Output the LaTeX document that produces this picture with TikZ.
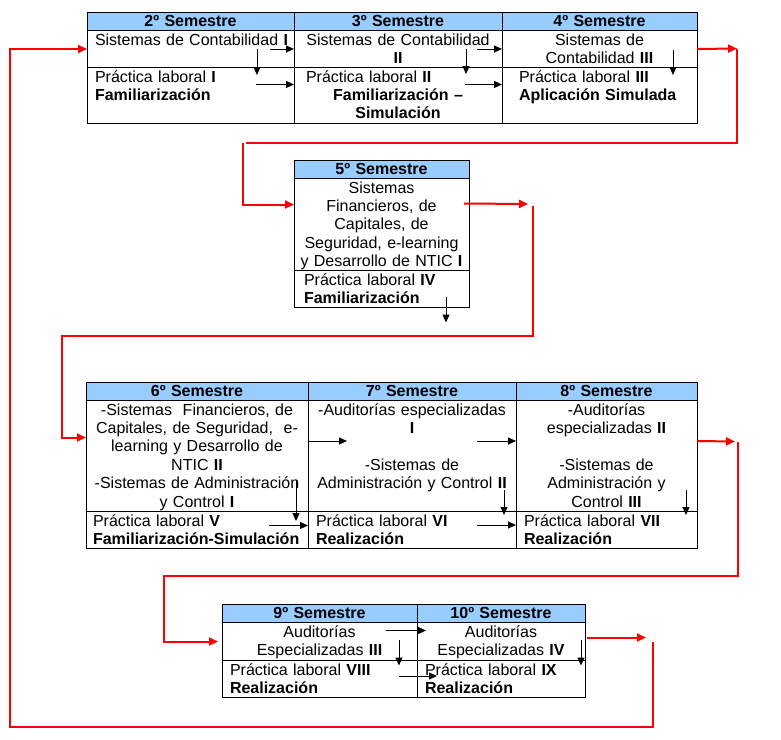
\documentclass[tikz,border=0pt]{standalone}
\usepackage{fontspec}
\setmainfont{Liberation Sans}
\usetikzlibrary{positioning, arrows.meta}
\definecolor{headblue}{RGB}{153,204,255}
\definecolor{linkred}{RGB}{255,0,0}
\tikzset{
  cell/.style={draw, line width=1pt, outer sep=0pt, inner xsep=6pt, inner ysep=0pt, text height=14.5pt, anchor=north west},
  lcell/.style={cell, align=left, inner xsep=8pt},
  head/.style={cell, fill=headblue, font=\bfseries, align=center, text height=14pt, text depth=4.5pt},
  blk/.style={-{Triangle[length=8pt,width=7pt]}, line width=1pt},
  redarr/.style={-{Triangle[length=9pt,width=8pt]}, draw=linkred, line width=2pt},
  redline/.style={draw=linkred, line width=2pt}
}
\begin{document}
\begin{tikzpicture}[x=1pt, y=-1pt, node font=\fontsize{16}{18.4}\selectfont]
    \useasboundingbox (0,0) rectangle (781,739);
    % Nodes
    \node (h2) [head, text width=195pt] at (87,12) {2º Semestre};
    \node (h3) [head, text width=196pt, right=0pt of h2] {3º Semestre};
    \node (h4) [head, text width=183pt, right=0pt of h3] {4º Semestre};
    \node (a2) [cell, align=left, text width=195pt, text depth=22.5pt, below=0pt of h2] {\hspace*{2pt}Sistemas de Contabilidad \textbf{I}};
    \node (a3) [cell, align=center, text width=196pt, text depth=22.5pt, below=0pt of h3] {Sistemas de Contabilidad\\\textbf{II}};
    \node (a4) [cell, align=center, text width=183pt, text depth=22.5pt, below=0pt of h4] {Sistemas de\\Contabilidad \textbf{III}};
    \node (b2) [lcell, text width=191pt, text depth=41.5pt, below=0pt of a2] {Práctica laboral \textbf{I}\\\textbf{Familiarización}};
    \node (b3) [cell, align=left, text width=196pt, text depth=41.5pt, below=0pt of a3] {\hspace*{6pt}Práctica laboral \textbf{II}\par{\centering\bfseries Familiarización –\\Simulación\par}};
    \node (b4) [cell, align=left, text width=183pt, text depth=41.5pt, below=0pt of a4] {\hspace*{11pt}Práctica laboral \textbf{III}\\\hspace*{11pt}\textbf{Aplicación Simulada}};

    \node (h5) [head, text width=163pt] at (294,160) {5º Semestre};
    \node (a5) [cell, align=center, text width=163pt, text depth=77.5pt, below=0pt of h5] {Sistemas\\Financieros, de\\Capitales, de\\Seguridad,\ e-learning\\y Desarrollo de NTIC \textbf{I}};
    \node (b5) [lcell, text width=159pt, text depth=22.5pt, below=0pt of a5] {\hspace*{2pt}Práctica laboral \textbf{IV}\\\hspace*{2pt}\textbf{Familiarización}};

    \node (h6) [head, text width=210pt] at (86,382) {6º Semestre};
    \node (h7) [head, text width=196pt, right=0pt of h6] {7º Semestre};
    \node (h8) [head, text width=169pt, right=0pt of h7] {8º Semestre};
    \node (a6) [cell, align=center, text width=210pt, text depth=96.5pt, below=0pt of h6] {-Sistemas\ \ Financieros, de\\Capitales, de Seguridad,\ \ e-\\learning y Desarrollo de\\NTIC \textbf{II}\\-Sistemas de Administración\\y Control \textbf{I}};
    \node (a7) [cell, align=center, text width=196pt, text depth=96.5pt, below=0pt of h7] {-Auditorías especializadas\\\textbf{I}\\\mbox{}\\ -Sistemas de\\Administración y Control \textbf{II}};
    \node (a8) [cell, align=center, text width=169pt, text depth=96.5pt, below=0pt of h8] {-Auditorías\\especializadas \textbf{II}\\\mbox{}\\ -Sistemas de\\Administración y\\Control \textbf{III}};
    \node (b6) [lcell, inner xsep=7pt, text width=208pt, text depth=22.5pt, below=0pt of a6] {Práctica laboral \textbf{V}\\\textbf{Familiarización-Simulación}};
    \node (b7) [lcell, text width=192pt, text depth=22.5pt, below=0pt of a7] {Práctica laboral \textbf{VI}\\\textbf{Realización}};
    \node (b8) [lcell, text width=165pt, text depth=22.5pt, below=0pt of a8] {Práctica laboral \textbf{VII}\\\textbf{Realización}};

    \node (h9) [head, text width=183pt] at (222,604) {9º Semestre};
    \node (h10) [head, text width=156pt, right=0pt of h9] {10º Semestre};
    \node (a9) [cell, align=center, text width=183pt, text depth=23.5pt, below=0pt of h9] {Auditorías\\Especializadas \textbf{III}};
    \node (a10) [cell, align=center, text width=156pt, text depth=23.5pt, below=0pt of h10] {Auditorías\\Especializadas \textbf{IV}};
    \node (b9) [lcell, text width=179pt, text depth=22.5pt, below=0pt of a9] {Práctica laboral \textbf{VIII}\\\textbf{Realización}};
    \node (b10) [lcell, text width=152pt, text depth=22.5pt, below=0pt of a10] {Práctica laboral \textbf{IX}\\\textbf{Realización}};

    % Turning points of the red lines
    \coordinate (r4) at (737,48.5);
    \coordinate (r4b) at (246,143);
    \coordinate (r5) at (243,143);
    \coordinate (r5e) at (528,204);
    \coordinate (r6) at (533,206);
    \coordinate (r6b) at (62,336);
    \coordinate (r8) at (735,441.5);
    \coordinate (r8v) at (738,442);
    \coordinate (r9) at (164,576);
    \coordinate (r10) at (646,637.5);
    \coordinate (r10v) at (653,642);
    \coordinate (r10b) at (10,727);

    % Arrows
    \draw[blk] ([xshift=-24pt]a3.west) -- (a3.west);
    \draw[blk] (a2.east) ++(-37,0) -- ++(0,26);
    \draw[blk] (b3.north west) ++(-38,17) -- ++(38,0);
    \draw[blk] ([xshift=-25pt]a4.west) -- (a4.west);
    \draw[blk] (a3.east) ++(-36,0) -- ++(0,25);
    \draw[blk] (b4.north west) ++(-37,17) -- ++(37,0);
    \draw[blk] (a4.east) ++(-24,1) -- ++(0,25);
    \draw[redarr] (a4.east) -- (r4);
    \draw[redline] (r4) |- (r4b);
    \draw[redarr] (r5) |- ([yshift=-26pt]a5.north west);

    \draw[blk] (b5.south east) ++(-23,-11) -- ++(0,26);
    \draw[redarr] (a5.north east) ++(-5,25) -- (r5e);
    \draw[redarr] (r6) |- (r6b) |- ([yshift=-37pt]a6.north west);

    \draw[blk] ([yshift=15pt]a7.west) -- ++(39,0);
    \draw[blk] (a6.east) ++(-12,25) -- ++(0,40);
    \draw[blk] ([xshift=-39pt,yshift=4.5pt]b7.west) -- ([yshift=4.5pt]b7.west);
    \draw[blk] ([xshift=-39pt,yshift=15pt]a8.west) -- ([yshift=15pt]a8.west);
    \draw[blk] (a7.east) ++(-12,34) -- ++(0,25);
    \draw[blk] ([xshift=-39pt,yshift=5pt]b8.west) -- ([yshift=5pt]b8.west);
    \draw[blk] (a8.east) ++(-11,34) -- ++(0,25);
    \draw[redarr] ([yshift=15pt]a8.east) -- (r8);
    \draw[redarr] (r8v) |- (r9) |- ([xshift=-4pt]a9.west);

    \draw[blk] ([xshift=-31pt,yshift=11pt]a10.west) -- ++(40,0);
    \draw[blk] (a9.east) ++(-18,-2) -- ++(0,26);
    \draw[blk] ([xshift=-18pt,yshift=3pt]b10.west) -- ++(38,0);
    \draw[blk] (a10.east) ++(-4,-2) -- ++(0,26);
    \draw[redarr] (a10.east) ++(2,-4) -- (r10);
    \draw[redarr] (r10v) |- (r10b) |- (a2.west);
\end{tikzpicture}
\end{document}
